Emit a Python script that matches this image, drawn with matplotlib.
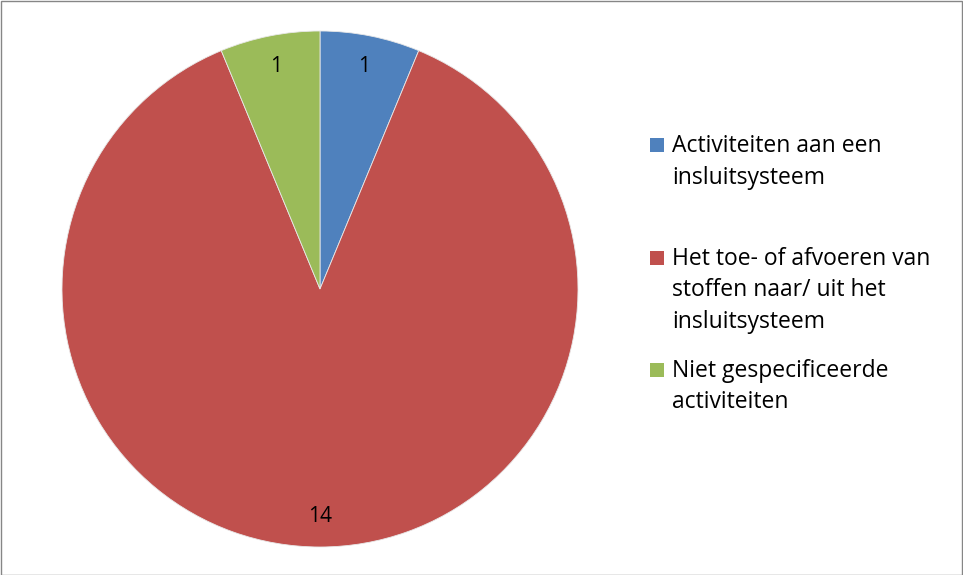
import matplotlib.pyplot as plt
from matplotlib.patches import Rectangle

plt.rcParams['font.family'] = ['Open Sans', 'DejaVu Sans']

labels = [['Activiteiten aan een', 'insluitsysteem'],
          ['Het toe- of afvoeren van', 'stoffen naar/ uit het', 'insluitsysteem'],
          ['Niet gespecificeerde', 'activiteiten']]
values = [1, 14, 1]
colors = ['#4F81BD', '#C0504D', '#9BBB59']

W, H = 963, 575
fig = plt.figure(figsize=(W / 100, H / 100), dpi=100)

# pie centred at (320, 289) px, radius 258 px
cx, cy, r = 320, 289, 258
ax = fig.add_axes([(cx - r) / W, (H - cy - r) / H, 2 * r / W, 2 * r / H])
wedges, texts = ax.pie(values, colors=colors, startangle=90, counterclock=False,
                       labels=[str(v) for v in values], labeldistance=0.88,
                       wedgeprops=dict(linewidth=0.6, edgecolor='#e8e8e8'),
                       textprops=dict(fontsize=15, color='black', ha='center', va='center'))
ax.set_xlim(-1, 1)
ax.set_ylim(-1, 1)
ax.set_aspect('equal')

# legend drawn by hand to match the spacing
first_baselines = [152, 265, 377]
for lines, col, yb in zip(labels, colors, first_baselines):
    fig.patches.append(Rectangle((650 / W, (H - yb) / H), 14 / W, 14 / H,
                                 transform=fig.transFigure, facecolor=col, edgecolor='none'))
    for i, line in enumerate(lines):
        y = yb + i * 31.5
        fig.text(672 / W, (H - y) / H, line, fontsize=16.5, va='baseline', ha='left',
                 color='black')

fig.patches.append(Rectangle((0.5 / W, 0.5 / H), (W - 1.5) / W, (H - 1.5) / H,
                             transform=fig.transFigure, facecolor='none',
                             edgecolor='#868686', linewidth=1))

fig.savefig('out.png', dpi=100)
